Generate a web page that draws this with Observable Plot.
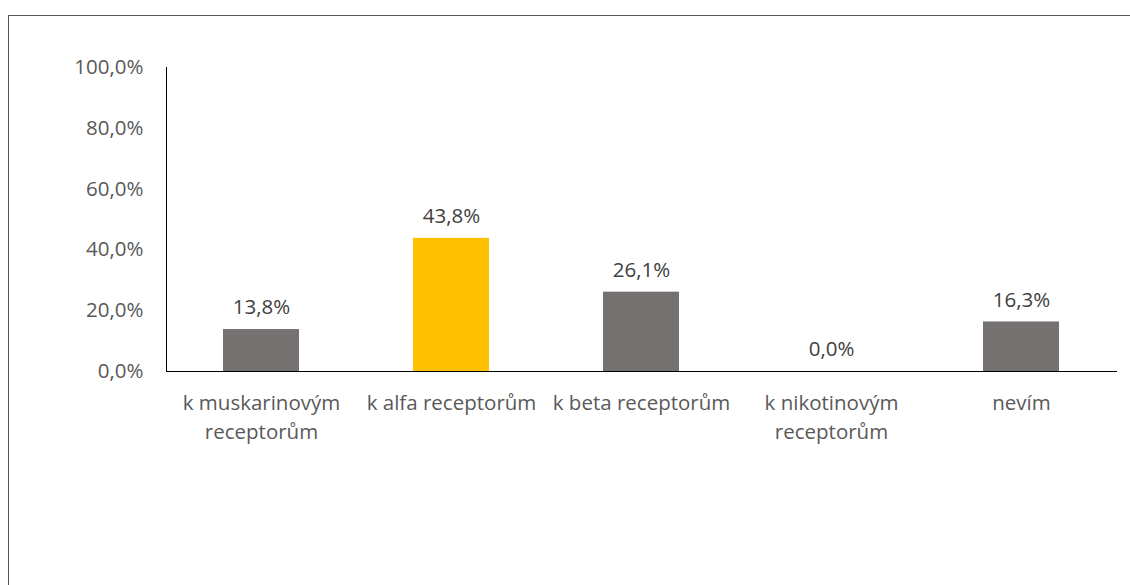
<!DOCTYPE html>
<html>
<head>
<meta charset="utf-8">
<script src="https://cdn.jsdelivr.net/npm/d3@7"></script>
<script src="https://cdn.jsdelivr.net/npm/@observablehq/plot@0.6"></script>
<style>
  html, body { margin: 0; padding: 0; background: #fff; overflow: hidden; width: 1130px; height: 585px; }
  #wrap { position: relative; width: 1130px; height: 585px; }
  #border { position: absolute; left: 8px; top: 15px; width: 1140px; height: 600px; border: 1.5px solid #555; box-sizing: border-box; pointer-events: none; }
  #chart { position: absolute; left: 0; top: 0; }
</style>
</head>
<body>
<div id="wrap"><div id="chart"></div><div id="border"></div></div>
<script>
const categories = ["k muskarinovým receptorům", "k alfa receptorům", "k beta receptorům", "k nikotinovým receptorům", "nevím"];
const tickLabels = ["k muskarinovým\nreceptorům", "k alfa receptorům", "k beta receptorům", "k nikotinovým\nreceptorům", "nevím"];
const values = [13.8, 43.8, 26.1, 0.0, 16.3];
const barColors = ["#767171", "#FFC000", "#767171", "#767171", "#767171"];
const yTicks = [0, 20, 40, 60, 80, 100];

const data = categories.map((c, i) => ({category: c, value: values[i], color: barColors[i]}));
const fmt = v => v.toFixed(1).replace(".", ",") + "%";
const labelOf = new Map(categories.map((c, i) => [c, tickLabels[i]]));
const FS = 20.5;

const chart = Plot.plot({
  width: 1130,
  height: 585,
  marginLeft: 166,
  marginRight: 13,
  marginTop: 67,
  marginBottom: 214,
  style: {fontFamily: "'Open Sans', sans-serif", fontSize: FS + "px", color: "#595959", background: "transparent"},
  x: {domain: categories, paddingInner: 0.6, paddingOuter: 0.3, label: null},
  y: {domain: [0, 100], label: null},
  marks: [
    Plot.barY(data, {x: "category", y: "value", fill: "color"}),
    Plot.text(data, {x: "category", y: "value", text: d => fmt(d.value), dy: -22, lineAnchor: "middle", fill: "#404040", fontSize: FS}),
    Plot.axisY({ticks: yTicks, tickSize: 0, tickPadding: 23, tickFormat: fmt, fill: "#595959", fontSize: FS}),
    Plot.axisX({tickSize: 0, tickPadding: 18, tickFormat: c => labelOf.get(c), lineHeight: 1.4, lineAnchor: "top", fill: "#595959", fontSize: FS}),
    Plot.frame({anchor: "left", stroke: "#000", strokeWidth: 1}),
    Plot.ruleY([0], {stroke: "#000", strokeWidth: 1.2})
  ]
});
document.getElementById("chart").appendChild(chart);
</script>
</body>
</html>
